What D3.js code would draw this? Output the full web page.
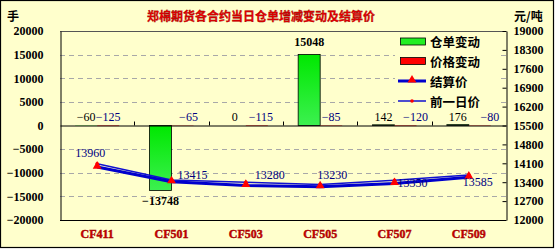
<!DOCTYPE html>
<html><head><meta charset="utf-8">
<script src="https://cdn.jsdelivr.net/npm/d3@7"></script>
<style>body{margin:0;background:#fff}svg{display:block}</style>
</head><body>
<svg id="c" width="555" height="250"></svg>
<script>
const categories = ["CF411","CF501","CF503","CF505","CF507","CF509"];
const receiptChange = [-60, -13748, 0, 15048, 142, 176];
const priceChange = [-125, -65, -115, -85, -120, -80];
const settlePrice = [13960, 13415, 13280, 13230, 13350, 13585];
const prevPrice = [14085, 13480, 13395, 13315, 13470, 13665];
const leftTicks = [20000,15000,10000,5000,0,-5000,-10000,-15000,-20000];
const rightTicks = [19000,18300,17600,16900,16200,15500,14800,14100,13400,12700,12000];
const seriesNames = ["仓单变动","价格变动","结算价","前一日价"];
const title = "郑棉期货各合约当日仓单增减变动及结算价";

// label offsets (layout only)
const priceLabelDx = [0, 6, 4, 0, 10, 10];
const settleLabelOff = [[-7,-14],[21,-7],[24,-10],[12,-12],[18,-1],[9,5]];

const svg = d3.select("#c");
const bg = "#ffffcc";
const L = 60, R = 506, T = 31, B = 220;
svg.append("rect").attr("x",0.5).attr("y",0.5).attr("width",553).attr("height",247)
  .attr("fill",bg).attr("stroke","#000").attr("stroke-width",1.2);

const x = d3.scaleBand().domain(categories).range([L,R]);
const yL = d3.scaleLinear().domain([-20000,20000]).range([B,T]);
const yR = d3.scaleLinear().domain([12000,19000]).range([B,T]);

const defs = svg.append("defs");
const g1 = defs.append("linearGradient").attr("id","gg").attr("x1",0).attr("y1",0).attr("x2",0).attr("y2",1);
g1.append("stop").attr("offset","0%").attr("stop-color","#00e800");
g1.append("stop").attr("offset","100%").attr("stop-color","#3cf050");

// plot bg
svg.append("rect").attr("x",L).attr("y",T).attr("width",R-L).attr("height",B-T).attr("fill",bg);

// gridlines
svg.append("g").selectAll("line").data(leftTicks.filter(v=>v!==0 && v!==20000 && v!==-20000)).join("line")
  .attr("x1",L).attr("x2",R).attr("y1",d=>Math.round(yL(d))+0.5).attr("y2",d=>Math.round(yL(d))+0.5)
  .attr("stroke","#a8a8a8").attr("stroke-dasharray","5,4");

// bars
const bw = 22;
const cx = d => x(d) + x.bandwidth()/2;
const y0 = yL(0);
const sw = v => (v <= 0 && Math.abs(yL(v)-y0) < 2) ? 0 : 0.8;
svg.append("g").selectAll("rect").data(categories).join("rect")
  .attr("x",(d)=>cx(d)-bw).attr("width",bw)
  .attr("y",(d,i)=>Math.min(yL(receiptChange[i]),y0))
  .attr("height",(d,i)=>Math.abs(yL(receiptChange[i])-y0))
  .attr("fill","url(#gg)").attr("stroke","#000").attr("stroke-width",(d,i)=>sw(receiptChange[i]));
svg.append("g").selectAll("rect").data(categories).join("rect")
  .attr("x",(d)=>cx(d)).attr("width",bw)
  .attr("y",(d,i)=>Math.min(yL(priceChange[i]),y0))
  .attr("height",(d,i)=>Math.abs(yL(priceChange[i])-y0))
  .attr("fill","#ff0000").attr("stroke","#000").attr("stroke-width",(d,i)=>sw(priceChange[i]));

// plot border
svg.append("line").attr("x1",L).attr("x2",R).attr("y1",T+0.5).attr("y2",T+0.5).attr("stroke","#555");
svg.append("line").attr("x1",L).attr("x2",R).attr("y1",B+0.5).attr("y2",B+0.5).attr("stroke","#000");

// left axis
const axL = svg.append("g").attr("transform",`translate(${L+0.5},0)`)
  .call(d3.axisLeft(yL).tickValues(leftTicks).tickSize(0).tickPadding(17).tickFormat(d3.format("d")));
axL.select(".domain").attr("stroke","#000");
axL.selectAll("text").attr("font-family","Liberation Serif").attr("font-weight","bold").attr("font-size","12px").attr("fill","#000")
  .text(d=>String(d).replace("-","\u2212"));

// right axis
const axR = svg.append("g").attr("transform",`translate(${R+0.5},0)`)
  .call(d3.axisRight(yR).tickValues(rightTicks).tickSizeInner(-4).tickSizeOuter(0).tickPadding(7).tickFormat(d3.format("d")));
axR.select(".domain").attr("stroke","#000");
axR.selectAll("line").attr("stroke","#000");
axR.selectAll("text").attr("font-family","Liberation Serif").attr("font-weight","bold").attr("font-size","12px").attr("fill","#000");

// x axis at zero
const axX = svg.append("g").attr("transform",`translate(0,${y0})`)
  .call(d3.axisTop(x).tickSize(0).tickFormat(""));
axX.select(".domain").attr("stroke","#000");
axX.selectAll(".tick").remove();
svg.append("g").selectAll("line").data(categories.slice(1)).join("line")
  .attr("x1",d=>Math.round(x(d))+0.5).attr("x2",d=>Math.round(x(d))+0.5)
  .attr("y1",y0).attr("y2",y0-4).attr("stroke","#000");

// category labels
svg.append("g").selectAll("text").data(categories).join("text")
  .attr("x",d=>cx(d)).attr("y",234).attr("text-anchor","middle").attr("dominant-baseline","central")
  .attr("font-family","Liberation Serif").attr("font-weight","bold").attr("font-size","12px")
  .attr("fill","#cc0000").attr("stroke","#990000").attr("stroke-width",0.4).text(d=>d);

// lines
const lineR = d3.line().x((d,i)=>cx(categories[i])).y(d=>yR(d));
svg.append("path").datum(prevPrice).attr("d",lineR).attr("fill","none").attr("stroke","#1010d0").attr("stroke-width",1.5);
svg.append("path").datum(settlePrice).attr("d",lineR).attr("fill","none").attr("stroke","#0000cc").attr("stroke-width",3);
svg.append("g").selectAll("circle").data(prevPrice).join("circle")
  .attr("cx",(d,i)=>cx(categories[i])).attr("cy",d=>yR(d)).attr("r",1.8).attr("fill","#ff0000");
const tri = d3.symbol().type(d3.symbolTriangle).size(34);
svg.append("g").selectAll("path").data(settlePrice).join("path")
  .attr("transform",(d,i)=>`translate(${cx(categories[i])},${yR(d)-1})`).attr("d",tri).attr("fill","#ff0000");

// bar labels
const fmt = v => String(v).replace("-","\u2212");
svg.append("g").selectAll("text").data(receiptChange).join("text")
  .attr("x",(d,i)=>cx(categories[i])-bw/2)
  .attr("y",d=> d>1000 ? yL(d)-12 : (d<-1000 ? yL(d)+11 : y0-9))
  .attr("text-anchor","middle").attr("dominant-baseline","central")
  .attr("font-family","Liberation Serif").attr("font-size","12px").attr("font-weight",d=>Math.abs(d)>1000?"bold":"normal")
  .attr("fill","#000").text(fmt);
svg.append("g").selectAll("text").data(priceChange).join("text")
  .attr("x",(d,i)=>cx(categories[i])+bw/2+priceLabelDx[i])
  .attr("y",y0-9)
  .attr("text-anchor","middle").attr("dominant-baseline","central")
  .attr("font-family","Liberation Serif").attr("font-size","12px")
  .attr("fill","#000080").text(fmt);

// settlement labels
svg.append("g").selectAll("text").data(settlePrice).join("text")
  .attr("x",(d,i)=>cx(categories[i])+settleLabelOff[i][0])
  .attr("y",(d,i)=>yR(d)+settleLabelOff[i][1])
  .attr("text-anchor","middle").attr("dominant-baseline","central")
  .attr("font-family","Liberation Serif").attr("font-size","12px")
  .attr("fill","#000080").text(d=>d);

// legend
const lg = svg.append("g");
lg.append("rect").attr("x",395).attr("y",33).attr("width",103).attr("height",78).attr("fill",bg);
const rows = [41.5, 61, 81, 101];
lg.append("rect").attr("x",400.5).attr("y",rows[0]-3.5).attr("width",25).attr("height",7).attr("fill","#22ee22").attr("stroke","#000").attr("stroke-width",0.8);
lg.append("rect").attr("x",400.5).attr("y",rows[1]-3.5).attr("width",25).attr("height",7).attr("fill","#ff0000").attr("stroke","#000").attr("stroke-width",0.8);
lg.append("line").attr("x1",398).attr("x2",426).attr("y1",rows[2]).attr("y2",rows[2]).attr("stroke","#0000cc").attr("stroke-width",3);
lg.append("path").attr("transform",`translate(412,${rows[2]-1})`).attr("d",tri).attr("fill","#ff0000");
lg.append("line").attr("x1",398).attr("x2",426).attr("y1",rows[3]).attr("y2",rows[3]).attr("stroke","#1010d0").attr("stroke-width",1.5);
lg.append("circle").attr("cx",412).attr("cy",rows[3]).attr("r",1.8).attr("fill","#ff0000");
lg.selectAll("text").data(seriesNames).join("text")
  .attr("x",430).attr("y",(d,i)=>rows[i]).attr("dominant-baseline","central")
  .attr("font-family","Noto Sans CJK SC").attr("font-weight","bold").attr("font-size","12.5px").attr("fill","#000").text(d=>d);

// title and units
svg.append("text").attr("x",261).attr("y",15).attr("text-anchor","middle").attr("dominant-baseline","central")
  .attr("font-family","Noto Sans CJK SC").attr("font-weight","bold").attr("font-size","12px")
  .attr("fill","#ee0000").attr("stroke","#880000").attr("stroke-width",0.3).text(title);
svg.append("text").attr("x",7).attr("y",15).attr("dominant-baseline","central")
  .attr("font-family","Noto Sans CJK SC").attr("font-weight","bold").attr("font-size","12px").attr("fill","#000").text("手");
svg.append("text").attr("x",514).attr("y",15).attr("dominant-baseline","central")
  .attr("font-family","Noto Sans CJK SC").attr("font-weight","bold").attr("font-size","12px").attr("fill","#000").text("元/吨");
</script>
</body></html>
